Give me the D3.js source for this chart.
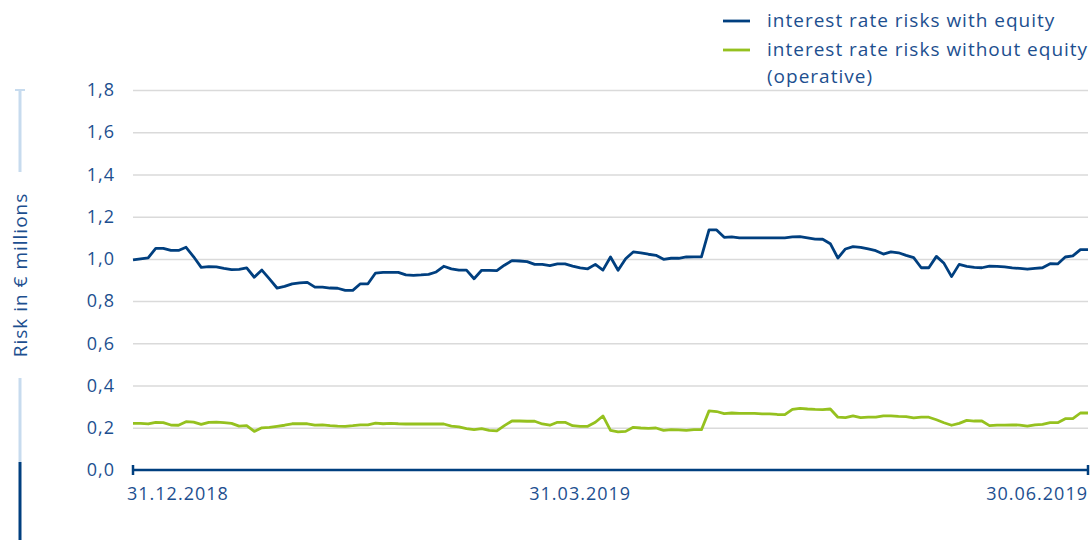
<!DOCTYPE html>
<html>
<head>
<meta charset="utf-8">
<script src="https://cdn.jsdelivr.net/npm/d3@7"></script>
<style>
  body { margin: 0; background: #fff; }
  text { font-family: "Open Sans", "Noto Sans", sans-serif; fill: #1d4f8f; letter-spacing: 1px; }
</style>
</head>
<body>
<script>
// risk values per business day, 31.12.2018 - 30.06.2019 (in € millions)
const withEquity = [
  0.995, 1.00, 1.005, 1.05, 1.05, 1.04, 1.04, 1.055, 1.01, 0.96,
  0.963, 0.962, 0.955, 0.949, 0.95, 0.957, 0.913, 0.947, 0.905, 0.862,
  0.87, 0.882, 0.886, 0.889, 0.866, 0.866, 0.862, 0.861, 0.851, 0.851,
  0.882, 0.882, 0.933, 0.936, 0.936, 0.936, 0.924, 0.922, 0.924, 0.927,
  0.938, 0.965, 0.953, 0.947, 0.947, 0.906, 0.946, 0.946, 0.944, 0.97,
  0.992, 0.99, 0.987, 0.974, 0.974, 0.968, 0.976, 0.976, 0.966, 0.957,
  0.953, 0.974, 0.947, 1.009, 0.946, 1.001, 1.033, 1.029, 1.022, 1.017,
  0.998, 1.003, 1.003, 1.009, 1.01, 1.01, 1.137, 1.137, 1.102, 1.104,
  1.10, 1.10, 1.10, 1.10, 1.10, 1.10, 1.10, 1.104, 1.105, 1.10,
  1.094, 1.093, 1.072, 1.004, 1.047, 1.058, 1.055, 1.047, 1.039, 1.023,
  1.033, 1.029, 1.017, 1.006, 0.958, 0.958, 1.012, 0.979, 0.916, 0.974,
  0.965, 0.96, 0.958, 0.966, 0.965, 0.962, 0.957, 0.955, 0.951, 0.955,
  0.958, 0.977, 0.976, 1.009, 1.014, 1.044, 1.044
];
const withoutEquity = [
  0.221, 0.221, 0.218, 0.226, 0.224, 0.213, 0.212, 0.229, 0.227, 0.216,
  0.226, 0.227, 0.224, 0.221, 0.208, 0.21, 0.183, 0.20, 0.202, 0.207,
  0.212, 0.219, 0.219, 0.219, 0.213, 0.214, 0.21, 0.208, 0.207, 0.21,
  0.214, 0.214, 0.222, 0.219, 0.221, 0.219, 0.218, 0.218, 0.218, 0.218,
  0.218, 0.218, 0.208, 0.204, 0.196, 0.191, 0.196, 0.188, 0.185, 0.21,
  0.232, 0.232, 0.231, 0.231, 0.218, 0.212, 0.226, 0.226, 0.21, 0.207,
  0.207, 0.226, 0.256, 0.188, 0.181, 0.183, 0.202, 0.199, 0.197, 0.199,
  0.188, 0.191, 0.19, 0.188, 0.191, 0.191, 0.28, 0.277, 0.267, 0.27,
  0.268, 0.268, 0.268, 0.266, 0.266, 0.263, 0.262, 0.287, 0.292, 0.289,
  0.287, 0.286, 0.289, 0.25, 0.248, 0.256, 0.248, 0.25, 0.25, 0.256,
  0.256, 0.254, 0.253, 0.247, 0.25, 0.25, 0.238, 0.224, 0.212, 0.221,
  0.235, 0.232, 0.232, 0.21, 0.213, 0.213, 0.214, 0.213, 0.208, 0.214,
  0.216, 0.224, 0.224, 0.243, 0.243, 0.27, 0.27
];
const yTicks = [0, 0.2, 0.4, 0.6, 0.8, 1.0, 1.2, 1.4, 1.6, 1.8];
const xTickLabels = ["31.12.2018", "31.03.2019", "30.06.2019"];
const xTickIdx = [0, 59, withEquity.length - 1];
const legendLabels = [["interest rate risks with equity"], ["interest rate risks without equity", "(operative)"]];

const navy = "#003f7f", green = "#95c11f";

const svg = d3.select("body").append("svg").attr("width", 1091).attr("height", 540);

const x = d3.scaleLinear().domain([0, withEquity.length - 1]).range([133, 1088]);
const y = d3.scaleLinear().domain([0, 1.8]).range([470, 90]);

// left decoration bar with axis title
svg.append("line").attr("x1", 20).attr("x2", 20).attr("y1", 90).attr("y2", 172)
  .attr("stroke", "#c7dbee").attr("stroke-width", 3);
svg.append("line").attr("x1", 15).attr("x2", 25).attr("y1", 90).attr("y2", 90)
  .attr("stroke", "#c7dbee").attr("stroke-width", 2);
svg.append("line").attr("x1", 20).attr("x2", 20).attr("y1", 378).attr("y2", 462)
  .attr("stroke", "#c7dbee").attr("stroke-width", 3);
svg.append("line").attr("x1", 20).attr("x2", 20).attr("y1", 462).attr("y2", 540)
  .attr("stroke", navy).attr("stroke-width", 3);
svg.append("text").attr("transform", "translate(27,275) rotate(-90)")
  .attr("text-anchor", "middle").attr("font-size", 19).text("Risk in € millions");

// grid + y labels
const yAxis = svg.append("g").attr("transform", "translate(133,0)")
  .call(d3.axisLeft(y).tickValues(yTicks).tickSize(-955).tickPadding(18)
    .tickFormat(d => d3.format(".1f")(d).replace(".", ",")));
yAxis.select(".domain").remove();
yAxis.selectAll(".tick line").attr("stroke", "#dadada").attr("stroke-width", 1.5)
  .filter(d => d === 0).remove();
yAxis.selectAll(".tick text").attr("font-size", 18).style("fill", "#1d4f8f")
  .style("font-family", "'Open Sans', sans-serif");

// series
const line = d3.line().x((d, i) => x(i)).y(d => y(d));
svg.append("path").datum(withoutEquity).attr("d", line)
  .attr("fill", "none").attr("stroke", green).attr("stroke-width", 2.8).attr("stroke-linejoin", "round");
svg.append("path").datum(withEquity).attr("d", line)
  .attr("fill", "none").attr("stroke", navy).attr("stroke-width", 2.8).attr("stroke-linejoin", "round");

// x axis
svg.append("line").attr("x1", x(0)).attr("x2", x(withEquity.length - 1)).attr("y1", y(0)).attr("y2", y(0))
  .attr("stroke", navy).attr("stroke-width", 2.5);
[0, withEquity.length - 1].forEach(i => {
  svg.append("line").attr("x1", x(i)).attr("x2", x(i)).attr("y1", y(0) - 5).attr("y2", y(0) + 5)
    .attr("stroke", navy).attr("stroke-width", 2.5);
});
const anchors = ["start", "middle", "end"];
xTickLabels.forEach((t, k) => {
  svg.append("text").attr("x", x(xTickIdx[k]) + (k === 0 ? -6 : 0)).attr("y", 500)
    .attr("text-anchor", anchors[k]).attr("font-size", 18).text(t);
});

// legend
const legend = svg.append("g");
[navy, green].forEach((c, k) => {
  legend.append("line").attr("x1", 723).attr("x2", 750).attr("y1", 21 + k * 29).attr("y2", 21 + k * 29)
    .attr("stroke", c).attr("stroke-width", 2.8);
  legendLabels[k].forEach((t, j) => {
    legend.append("text").attr("x", 767).attr("y", 27 + k * 29 + j * 27)
      .attr("font-size", 19).text(t);
  });
});
</script>
</body>
</html>
